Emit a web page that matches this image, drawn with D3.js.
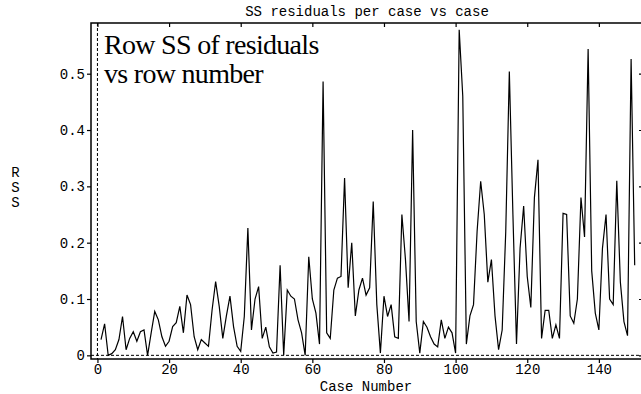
<!DOCTYPE html>
<html>
<head>
<meta charset="utf-8">
<script src="https://cdn.jsdelivr.net/npm/d3@7"></script>
<style>
  body { margin: 0; background: #fff; }
  svg { display: block; }
</style>
</head>
<body>
<svg id="chart" width="641" height="394"></svg>
<script>
// row sum of squares of residuals, cases 1..150
const rss = [
  0.028, 0.056, 0.0, 0.003, 0.01, 0.028, 0.069, 0.01, 0.03, 0.042,
  0.025, 0.042, 0.045, 0.0, 0.04, 0.078, 0.063, 0.033, 0.016, 0.025,
  0.051, 0.058, 0.087, 0.04, 0.107, 0.09, 0.033, 0.01, 0.028, 0.022,
  0.016, 0.08, 0.131, 0.087, 0.03, 0.07, 0.105, 0.051, 0.016, 0.007,
  0.069, 0.226, 0.045, 0.10, 0.122, 0.03, 0.05, 0.015, 0.004, 0.006,
  0.16, 0.0, 0.116, 0.105, 0.10, 0.063, 0.04, 0.0, 0.175, 0.1,
  0.075, 0.02, 0.486, 0.04, 0.03, 0.116, 0.137, 0.14, 0.315, 0.12,
  0.2, 0.07, 0.116, 0.137, 0.107, 0.12, 0.273, 0.09, 0.004, 0.105,
  0.069, 0.09, 0.033, 0.03, 0.25, 0.17, 0.06, 0.40, 0.06, 0.004,
  0.06, 0.05, 0.033, 0.02, 0.015, 0.063, 0.03, 0.05, 0.04, 0.004,
  0.578, 0.46, 0.02, 0.07, 0.09, 0.22, 0.309, 0.25, 0.13, 0.17,
  0.07, 0.01, 0.045, 0.22, 0.504, 0.25, 0.02, 0.19, 0.265, 0.14,
  0.085, 0.28, 0.347, 0.03, 0.08, 0.08, 0.03, 0.054, 0.03, 0.252,
  0.25, 0.07, 0.057, 0.1, 0.28, 0.21, 0.544, 0.15, 0.075, 0.045,
  0.19, 0.25, 0.10, 0.09, 0.31, 0.13, 0.06, 0.035, 0.526, 0.16
];
const firstCase = 1;
const xTicks = [0, 20, 40, 60, 80, 100, 120, 140];
const yTicks = [0, 0.1, 0.2, 0.3, 0.4, 0.5];
const yTickLabels = ['0', '0.1', '0.2', '0.3', '0.4', '0.5'];

const svg = d3.select('#chart'),
  margin = {top: 23, right: -3, bottom: 35, left: 91},
  width = +svg.attr('width') - margin.left - margin.right,
  height = +svg.attr('height') - margin.top - margin.bottom;

const mono = '"Liberation Mono", "DejaVu Sans Mono", monospace';

const x = d3.scaleLinear().domain([-1.8, 152.6]).range([0, width]);
const y = d3.scaleLinear().domain([-0.0065, 0.59]).range([height, 0]);

const g = svg.append('g')
  .attr('transform', 'translate(' + margin.left + ',' + margin.top + ')');

// zero reference lines
g.append('line')
  .attr('x1', x(0)).attr('x2', x(0))
  .attr('y1', 0).attr('y2', height)
  .attr('stroke', '#000').attr('stroke-width', 1)
  .attr('stroke-dasharray', '3,2');
g.append('line')
  .attr('x1', 0).attr('x2', width)
  .attr('y1', y(0)).attr('y2', y(0))
  .attr('stroke', '#000').attr('stroke-width', 1)
  .attr('stroke-dasharray', '3,2');

// the series
const line = d3.line()
  .x(function (d, i) { return x(i + firstCase); })
  .y(function (d) { return y(d); });

g.append('path')
  .datum(rss)
  .attr('fill', 'none')
  .attr('stroke', '#000')
  .attr('stroke-width', 1.2)
  .attr('stroke-linejoin', 'miter')
  .attr('d', line);

// axes
const axBottom = g.append('g')
  .attr('transform', 'translate(0,' + height + ')')
  .call(d3.axisBottom(x).tickValues(xTicks).tickSize(4).tickPadding(1).tickFormat(d3.format('d')));

const axTop = g.append('g')
  .call(d3.axisBottom(x).tickValues(xTicks).tickSize(4).tickFormat(''));

const axLeft = g.append('g')
  .call(d3.axisLeft(y).tickValues(yTicks).tickSize(4).tickPadding(2)
    .tickFormat(function (d, i) { return yTickLabels[i]; }));

const axRight = g.append('g')
  .attr('transform', 'translate(' + width + ',0)')
  .call(d3.axisLeft(y).tickValues(yTicks).tickSize(5).tickFormat(''));

[axBottom, axTop, axLeft, axRight].forEach(function (a) {
  a.select('.domain').remove();
  a.selectAll('line').attr('stroke', '#000').attr('stroke-width', 1.2);
  a.selectAll('text')
    .attr('fill', '#000')
    .style('font-family', mono)
    .style('font-size', '14px');
});

// frame
g.append('rect')
  .attr('x', 0).attr('y', 0)
  .attr('width', width).attr('height', height)
  .attr('fill', 'none')
  .attr('stroke', '#000')
  .attr('stroke-width', 1.5);

// titles
svg.append('text')
  .attr('x', 367).attr('y', 16)
  .attr('text-anchor', 'middle')
  .style('font-family', mono).style('font-size', '14px')
  .text('SS residuals per case vs case');

svg.append('text')
  .attr('x', 366).attr('y', 391)
  .attr('text-anchor', 'middle')
  .style('font-family', mono).style('font-size', '14px')
  .text('Case Number');

['R', 'S', 'S'].forEach(function (c, i) {
  svg.append('text')
    .attr('x', 15.5).attr('y', 177 + i * 15)
    .attr('text-anchor', 'middle')
    .style('font-family', mono).style('font-size', '14px')
    .text(c);
});

// annotation inside the plot
const note = svg.append('text')
  .style('font-family', '"Liberation Serif", "Times New Roman", serif')
  .style('font-size', '28px')
  .style('letter-spacing', '-0.7px')
  .attr('fill', '#000');
note.append('tspan').attr('x', 104).attr('y', 54).text('Row SS of residuals');
note.append('tspan').attr('x', 104).attr('y', 83).text('vs row number');
</script>
</body>
</html>
